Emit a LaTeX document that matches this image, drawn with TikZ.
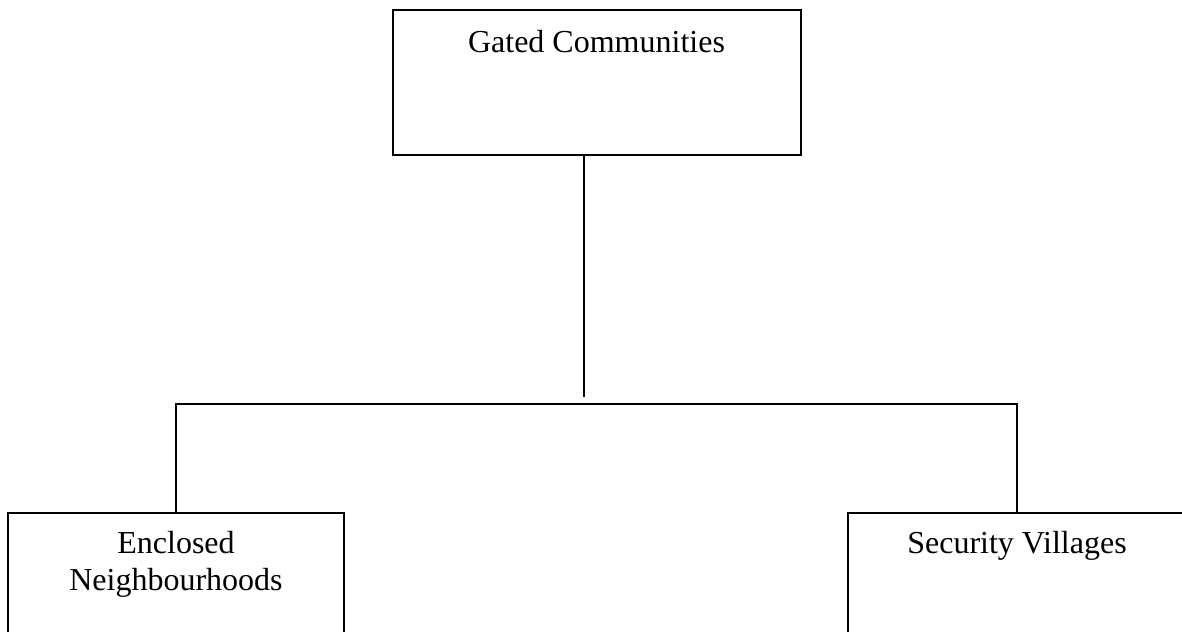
\documentclass[tikz,border=0pt]{standalone}
\usepackage{fontspec}
\setmainfont{Liberation Serif}
\usetikzlibrary{positioning,calc}

\begin{document}
\begin{tikzpicture}[
    x=0.375pt, y=-0.375pt,
    line width=0.75pt,
    category/.style={draw,minimum width=153pt,minimum height=54.4pt,
                     inner sep=0pt},
    caption/.style={anchor=north,inner sep=0pt,align=center,
                    font=\fontsize{12pt}{13.8pt}\selectfont},
  ]

  % page frame (boxes at the bottom run off the page)
  \useasboundingbox (0,0) rectangle (1182,631);
  \clip (0,0) rectangle (1182,631);

  % --- top box ---
  \node[category] (gated) at (597,82.5) {};
  \node[caption] (gatedtxt) at (596.5,29) {Gated Communities};

  % --- bottom boxes ---
  \node[category,minimum width=126pt] (enclosed) at (176,585.5) {};
  \node[caption] (enclosedtxt) at (176,530) {Enclosed\\Neighbourhoods};

  \node[category,minimum width=126.8pt] (security) at (1017,585.5) {};
  \node[caption] (securitytxt) at (1017,530) {Security Villages};

  % --- connectors ---
  \coordinate (hub) at (584,397);
  \coordinate (bar) at (584,404);
  \draw (gated.south -| hub) -- (hub);
  \draw (enclosed.north) |- (bar) -| (security.north);

\end{tikzpicture}
\end{document}
